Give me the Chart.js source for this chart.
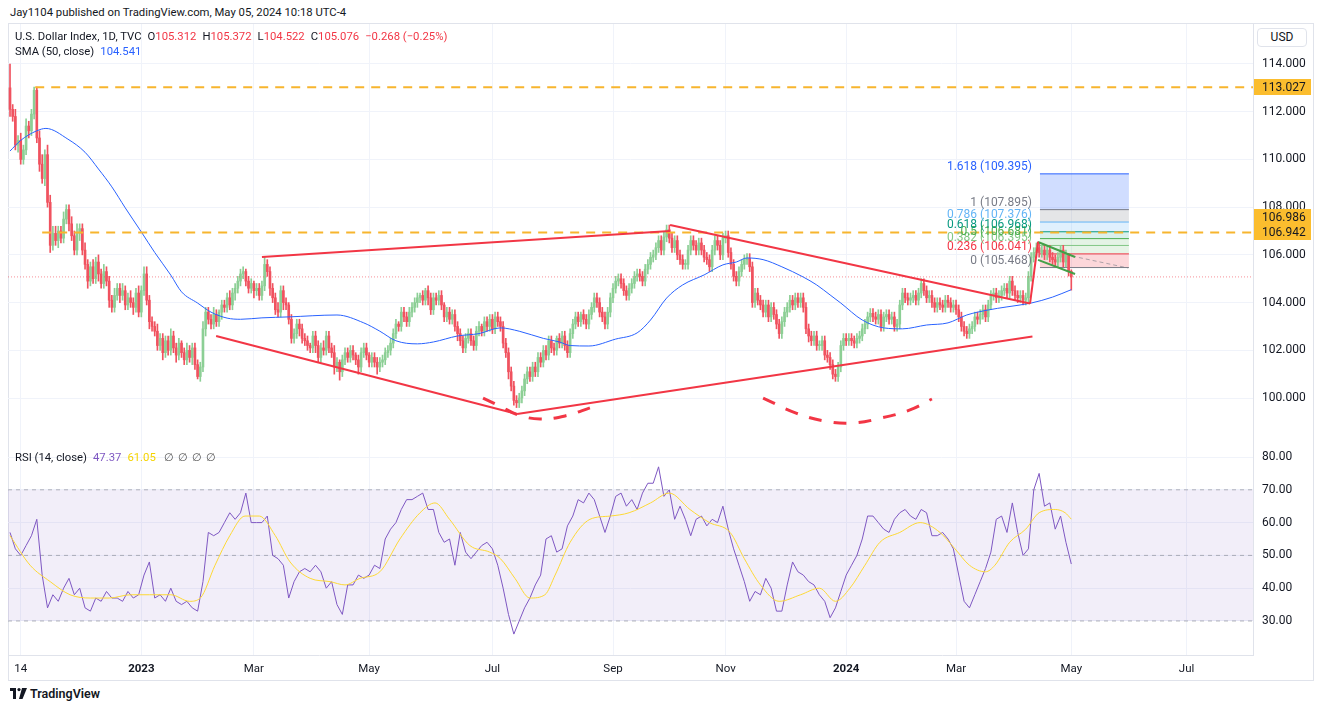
<!DOCTYPE html>
<html><head><meta charset="utf-8">
<script src="https://cdn.jsdelivr.net/npm/chart.js@4.4.1/dist/chart.umd.min.js"></script>
<style>
body{margin:0;width:1320px;height:709px;background:#fff;font-family:Roboto,"Liberation Sans",sans-serif;position:relative;overflow:hidden;color:#131722}
.abs{position:absolute;white-space:nowrap}
#frame{position:absolute;left:8px;top:23px;width:1306px;height:658px;border:1px solid #e0e3eb;box-sizing:border-box}
canvas{position:absolute}
#usd{left:1257px;top:28px;width:50px;height:19px;border:1px solid #e0e3eb;border-radius:4px;box-sizing:border-box;font-size:12px;text-align:center;line-height:17px;background:#fff}
.red{color:#f23645}.blue{color:#2962ff}
.g{margin-left:6px}
</style></head><body>
<div class="abs" style="left:10px;top:6px;font-size:11.3px">Jay1104 published on TradingView.com, May 05, 2024 10:18 UTC-4</div>
<div id="frame"></div>
<canvas id="c1" width="1305" height="419" style="left:8px;top:24px"></canvas>
<canvas id="c2" width="1305" height="237" style="left:8px;top:443px"></canvas>
<div class="abs" style="left:15px;top:30px;font-size:11.3px">U.S. Dollar Index, 1D, TVC<span class="g">O</span><span class="red">105.312</span><span class="g">H</span><span class="red">105.372</span><span class="g">L</span><span class="red">104.522</span><span class="g">C</span><span class="red">105.076</span><span class="g red">−0.268 (−0.25%)</span></div>
<div class="abs" style="left:15px;top:45px;font-size:11.3px">SMA (50, close)<span class="g blue">104.541</span></div>
<div class="abs" style="left:15px;top:451px;font-size:11.3px">RSI (14, close)<span class="g" style="color:#7e57c2">47.37</span><span class="g" style="color:#f5d300">61.05</span><span class="g" style="color:#555;font-size:10.5px;margin-left:8px;letter-spacing:4px">∅∅∅∅</span></div>
<div id="usd" class="abs">USD</div>
<div class="abs" style="left:10px;top:686px;font-size:12.5px;font-weight:600;display:flex;align-items:center">
<svg width="17" height="11" viewBox="0 0 17 11" style="margin-right:3px"><rect x="0" y="0" width="6" height="3" fill="#131722"/><rect x="3" y="0" width="3" height="11" fill="#131722"/><circle cx="9" cy="1.6" r="1.6" fill="#131722"/><polygon points="12,0 17,0 12.5,11 9,11" fill="#131722"/></svg>TradingView</div>
<script>
const FONT = 'Roboto, "Liberation Sans", sans-serif';
// ---- price data (daily candles, bar index 0 = first bar) ----
const firstOpen = 113.0;
const closes = [
112.1,111.8,110.6,110.8,110.0,110.4,111.4,111.2,111.9,112.9,
110.9,109.8,109.2,110.2,108.2,106.4,106.9,106.6,107.0,106.7,
107.5,107.9,107.3,106.8,106.2,106.9,107.1,106.2,105.6,104.9,
105.5,105.0,105.7,105.2,104.8,105.3,104.9,104.1,103.8,104.3,
104.6,104.3,104.5,103.9,104.2,104.0,103.8,104.4,103.6,104.5,
105.2,104.1,103.2,103.0,102.8,102.2,102.5,101.9,102.4,102.0,
102.6,102.1,101.8,102.3,101.9,101.6,102.0,101.7,102.1,101.4,
100.9,101.3,102.9,103.6,103.3,103.1,103.5,103.2,103.6,103.9,
103.8,104.2,103.9,104.4,104.6,104.9,105.2,105.3,104.9,104.6,
104.8,104.5,104.6,104.3,104.7,105.6,105.3,104.6,104.2,103.7,
103.6,104.5,104.0,103.9,103.3,102.5,102.7,103.1,102.9,102.5,
102.4,102.2,102.1,102.6,102.2,101.7,102.1,102.0,102.6,102.1,
101.9,101.3,101.5,101.1,101.6,101.9,101.7,102.0,101.8,101.6,
101.3,101.9,102.1,101.8,101.5,101.7,101.5,101.3,101.5,101.6,
101.9,102.0,102.3,102.7,103.1,103.0,103.6,103.4,103.2,103.6,
103.8,104.0,104.2,104.3,104.1,104.5,104.2,103.7,104.2,104.1,
104.3,103.9,103.4,103.6,103.3,103.5,103.0,102.7,102.4,102.1,
102.5,102.7,102.4,102.2,102.8,103.0,102.8,103.2,103.0,103.3,
102.9,103.4,103.2,103.0,102.3,101.9,101.1,100.5,99.9,99.8,
100.0,100.3,100.8,101.1,100.9,101.3,101.1,101.7,101.5,102.0,
101.8,102.4,102.1,102.0,102.5,102.3,102.6,102.2,101.9,102.7,
103.1,103.4,103.2,103.5,103.3,103.1,103.5,103.8,104.2,104.0,
103.6,103.4,103.1,103.6,104.2,104.6,104.9,105.0,104.8,104.5,
104.3,104.6,104.8,105.1,105.2,105.1,104.9,105.4,105.6,105.9,
106.0,106.3,106.6,106.2,106.75,107.05,106.7,106.3,106.6,106.0,
105.8,105.6,105.6,106.2,106.6,106.4,106.2,106.5,106.2,105.9,
105.8,105.5,106.2,106.6,106.4,106.0,106.7,106.8,106.1,105.6,
105.1,104.9,105.3,105.6,105.8,105.85,105.5,104.0,104.4,104.1,
103.9,103.6,103.9,103.4,103.8,103.5,103.1,102.7,103.2,103.6,
103.8,104.1,103.9,104.2,104.0,104.2,103.8,102.9,102.6,102.4,
102.6,102.2,102.2,102.4,101.8,101.7,101.4,101.0,100.9,101.3,
102.2,102.5,102.4,102.5,102.4,102.3,102.5,102.6,102.9,103.1,
103.4,103.55,103.4,103.3,103.5,103.0,103.4,103.5,103.3,103.4,
103.0,103.1,103.9,104.4,104.2,104.1,104.2,104.3,104.1,104.4,
104.8,104.5,104.2,104.3,104.0,103.8,104.0,103.9,103.8,104.1,
104.0,103.8,103.9,103.7,103.4,103.0,102.8,102.7,102.9,103.0,
103.4,103.3,103.5,103.7,103.4,103.9,104.3,104.4,104.2,104.3,
104.5,104.6,104.4,104.9,104.5,104.3,104.2,104.3,104.1,104.2,
105.1,105.9,106.1,106.3,106.1,106.2,106.0,106.2,105.9,105.8,
105.7,105.9,106.2,105.7,106.0,105.312,105.076];
const upperWick = [
1.0,.2,.3,.2,.3,.2,.3,.2,.2,.13, .13,.3,.4,.2,.4,.3,.3,.3,.2,.2,
.3,.2,.2,.3,.2,.4,.2,.2,.3,.2, .2,.3,.2,.3,.2,.3,.2,.2,.2,.3,
.2,.2,.3,.2,.2,.3,.2,.2,.3,.2, .3,.3,.2,.2,.2,.3,.2,.2,.2,.2,
.3,.2,.2,.2,.1,.2,.3,.2,.2,.2, .2,.2,.3,.2,.2,.2,.3,.2,.1,.2,
.2,.2,.3,.2,.2,.2,.2,.2,.1,.2, .2,.1,.2,.2,.2,.3,.2,.2,.2,.2,
.3,.2,.2,.2,.1,.2,.2,.2,.2,.2, .2,.2,.1,.2,.2,.2,.2,.3,.2,.2,
.2,.3,.2,.1,.2,.2,.2,.2,.2,.1, .2,.2,.2,.2,.1,.2,.2,.2,.2,.2,
.2,.2,.2,.2,.2,.1,.2,.2,.2,.2, .2,.2,.2,.1,.2,.1,.2,.2,.2,.2,
.2,.2,.1,.2,.2,.2,.2,.2,.2,.2, .2,.2,.2,.2,.2,.2,.1,.2,.2,.2,
.2,.2,.2,.2,.2,.2,.2,.2,.2,.2, .2,.2,.2,.2,.2,.2,.2,.2,.2,.2,
.2,.2,.2,.2,.1,.2,.2,.2,.2,.2, .2,.2,.2,.1,.2,.2,.2,.2,.2,.2,
.2,.2,.2,.2,.2,.2,.2,.2,.2,.2, .2,.2,.2,.2,.2,.2,.2,.2,.2,.2,
.2,.2,.2,.2,.2,.2,.2,.2,.2,.2, .2,.2,.2,.2,.2,.2,.2,.2,.2,.2,
.2,.2,.2,.2,.2,.2,.2,.2,.2,.2, .2,.2,.2,.2,.2,.2,.2,.2,.2,.2,
.2,.2,.2,.2,.2,.2,.2,.2,.2,.2, .2,.2,.2,.2,.2,.2,.2,.2,.2,.2,
.2,.2,.2,.2,.2,.2,.2,.2,.2,.2, .2,.2,.2,.2,.2,.2,.2,.2,.2,.2,
.2,.2,.2,.2,.2,.2,.2,.2,.2,.2, .2,.2,.2,.2,.2,.2,.2,.2,.2,.2,
.2,.2,.2,.2,.2,.2,.2,.2,.2,.2, .2,.2,.2,.2,.2,.2,.2,.2,.2,.2,
.2,.2,.2,.2,.2,.2,.2,.2,.2,.2, .2,.2,.2,.2,.2,.2,.2,.2,.2,.2,
.2,.2,.2,.2,.2,.2,.2,.2,.2,.2, .2,.2,.2,.2,.2,.06,.06];
const lowerWick = [
.3,.2,.2,.3,.2,.2,.2,.3,.2,.2, .2,.3,.2,.3,.2,.3,.2,.2,.3,.2,
.2,.2,.3,.2,.2,.2,.3,.2,.2,.3, .2,.2,.2,.3,.2,.2,.2,.3,.2,.2,
.2,.3,.2,.2,.2,.2,.3,.2,.2,.2, .2,.2,.3,.2,.2,.2,.2,.3,.2,.2,
.2,.2,.3,.2,.2,.2,.2,.2,.3,.2, .1,.2,.2,.3,.2,.2,.2,.2,.2,.3,
.2,.2,.2,.2,.3,.2,.2,.2,.2,.2, .2,.3,.2,.2,.2,.2,.2,.3,.2,.2,
.2,.2,.3,.2,.2,.2,.2,.2,.3,.2, .2,.2,.2,.2,.3,.2,.2,.2,.2,.2,
.2,.3,.2,.35,.2,.2,.2,.2,.2,.2, .3,.2,.2,.2,.2,.2,.2,.3,.2,.2,
.2,.2,.2,.2,.2,.2,.2,.2,.2,.2, .2,.2,.2,.2,.2,.2,.3,.2,.2,.2,
.2,.2,.2,.2,.2,.2,.2,.3,.2,.2, .2,.2,.2,.2,.2,.2,.2,.2,.2,.2,
.2,.2,.2,.2,.2,.2,.3,.2,.2,.2, .2,.2,.2,.2,.2,.2,.2,.2,.2,.2,
.2,.2,.2,.2,.2,.2,.2,.2,.2,.2, .2,.2,.2,.2,.2,.2,.2,.2,.2,.2,
.2,.2,.2,.2,.2,.2,.2,.2,.2,.2, .2,.2,.2,.2,.2,.2,.2,.2,.2,.2,
.2,.2,.2,.2,.2,.2,.2,.2,.2,.2, .2,.2,.2,.2,.2,.2,.2,.2,.2,.2,
.2,.2,.2,.2,.2,.2,.2,.2,.2,.2, .2,.2,.2,.2,.2,.2,.2,.2,.2,.2,
.2,.2,.2,.2,.2,.2,.2,.2,.2,.2, .2,.2,.2,.2,.2,.2,.2,.2,.25,.2,
.2,.2,.2,.2,.2,.2,.2,.2,.2,.2, .2,.2,.2,.2,.2,.2,.2,.2,.2,.2,
.2,.2,.2,.2,.2,.2,.2,.2,.2,.2, .2,.2,.2,.2,.2,.2,.2,.2,.2,.2,
.2,.2,.2,.2,.2,.2,.2,.2,.2,.2, .2,.2,.2,.2,.2,.2,.2,.2,.2,.2,
.2,.2,.2,.2,.2,.2,.2,.2,.2,.2, .2,.2,.2,.2,.2,.2,.2,.2,.2,.2,
.2,.2,.2,.2,.2,.2,.2,.2,.2,.2, .2,.2,.2,.2,.2,.2,.554];
// ---- SMA(50) read at sample bars ----
const smaBars = [0,4,10,13.4,21.6,28,33,38,43,49,54,60,64,70,75,81,86,94,104,122,132,138,144,152,158,167,175,183,190,199,205,209,216,226,234,239,245,251,259,266,271,275,281,288,296,301,306,310,318,326,333,342,350,357,365,372,381,389,396];
const smaValues = [110.35,110.8,111.2,111.3,110.85,110.3,109.6,108.85,107.97,106.96,106.1,105.15,104.45,103.98,103.6,103.35,103.3,103.36,103.4,103.48,103.15,102.8,102.4,102.27,102.35,102.6,102.7,102.94,102.8,102.5,102.35,102.2,102.18,102.47,102.73,103.27,104.19,104.74,105.16,105.58,105.7,105.87,105.8,105.5,105.07,104.74,104.32,103.98,103.27,102.94,102.9,103.06,103.15,103.48,103.69,103.82,103.98,104.23,104.541];
// ---- RSI(14), read every 2nd bar ----
const rsiStep = 2;
const rsiValues = [
57,52,50,53,56,61,44,34,38,36,40,43,38,40,34,33,37,36,39,37,
37,36,39,37,38,44,48,37,38,36,40,36,35,36,34,33,42,57,56,57,
60,63,61,63,69,60,60,60,62,50,49,47,37,42,45,46,45,47,45,40,
42,35,32,41,41,44,43,44,47,46,55,58,60,64,67,67,68,69,64,64,
57,54,55,47,57,51,49,51,53,54,52,47,40,32,26,30,34,37,41,44,
55,56,51,52,59,62,67,66,69,67,62,57,62,68,69,65,67,64,69,72,
72,77,68,70,61,65,61,56,61,62,59,61,60,65,58,52,47,42,36,39,
38,43,40,33,33,41,48,45,44,42,41,38,36,31,34,39,44,47,50,55,
62,62,60,58,57,61,63,64,62,61,64,63,56,56,57,55,52,44,36,34,
38,42,46,51,61,62,57,66,57,50,52,70,75,65,66,58,62,54,47.37];
const rsiMaBars = [0,7.5,15,22.4,30,37,45,52,60,67,71,76.5,82,87.7,93,99,104.5,112,119.4,125,130.6,138,145.5,153,158.6,164,171.6,179,183,188.4,194,199.6,203.4,209,216.4,224,231,239,246,253.7,261,268.7,274,280,287,295,302,308,313.4,319,324.6,332,339.6,347,352.6,358,364,367.5,373,379,384,390,393.7,396];
const rsiMaValues = [56,47,42,38,37,37,38,38,38,36,37,47,56,62,62,56,48,43,42,41,43,45,55,63,66,61,53,51,49,43,37,38,44,54,61,62,63,66,69,64,60,57,49,41,36,38,40,36,40,47,54,57,60,57,52,47,45,47,54,58,63,64,63,61.05];
const rsiLevels = [70, 50, 30];
// ---- axes ----
const priceTicks = [100,102,104,106,108,110,112,114];
const rsiTicks = [30,40,50,60,70,80];
const timeTickBars = [4,49,91,134,180,225,267,312,353,396,439];
const timeTickLabels = ['14','2023','Mar','May','Jul','Sep','Nov','2024','Mar','May','Jul'];
const yearLabels = ['2023','2024'];
const xMin = -0.75, xMax = 463.8;
const priceMin = 98.115, priceMax = 115.676;
const rsiMin = 19.63, rsiMax = 84.27;
// ---- drawings ----
const resistancePrices = [113.027, 106.942];
const resistanceFrom = [9.4, 12];
const axisMarks = [113.027, 106.986, 106.942];
const lastClose = 105.076;
const wedgeTop = [[94,105.91],[246.3,107.0]];
const wedgeBottomLeft = [[76.9,102.6],[189.2,99.33]];
const wedgeBottomRight = [[189.2,99.33],[381.5,102.58]];
const downTrend = [[246.3,107.25],[380.6,103.96]];
const breakout = [[380.6,103.96],[383.6,106.55]];
const flagTop = [[383.6,106.54],[397.4,105.91]];
const flagBottom = [[383.6,105.79],[397.4,105.2]];
const arcLeft = [[176.5,100.0],[182.8,99.66],[189.6,99.29],[197.8,99.12],[207.1,99.25],[217.2,99.62]];
const arcRight = [[281,100.0],[293.3,99.37],[303.7,99.04],[314.2,98.95],[325,99.16],[335.8,99.5],[344,99.96]];
const fibProjection = [[396.3,105.95],[417.2,105.45]];
const fibRatios = ['0','0.236','0.382','0.5','0.618','0.786','1','1.618'];
const fibPrices = [105.468,106.041,106.395,106.681,106.968,107.376,107.895,109.395];
const fibBars = [384.3, 417.5];

const fibLine = ['#787b86','#f23645','#81c784','#4caf50','#089981','#64b5f6','#787b86','#2962ff'];
const fibFill = [null,'rgba(242,54,69,0.2)','rgba(129,199,132,0.2)','rgba(76,175,80,0.15)','rgba(8,153,129,0.15)','rgba(100,181,246,0.2)','rgba(120,123,134,0.2)','rgba(41,98,255,0.22)'];
const UP='#8ccf95', DOWN='#f0525f';

const opens = closes.map((c,i)=> i===0 ? firstOpen : closes[i-1]);
const highs = closes.map((c,i)=> Math.max(opens[i],c)+upperWick[i]);
const lows = closes.map((c,i)=> Math.min(opens[i],c)-lowerWick[i]);
const candleColor = closes.map((c,i)=> c>=opens[i] ? UP : DOWN);
const pts = arr => arr.map(p=>({x:p[0],y:p[1]}));
const seg = (data,color,width,dash,order,tension) => ({type:'line',data:pts(data),borderColor:color,borderWidth:width,borderDash:dash||[],pointRadius:0,fill:false,order:order,tension:tension||0,borderCapStyle:'butt'});

const ds1 = [];
fibPrices.forEach((p,i)=>{
  ds1.push({type:'line',data:[{x:fibBars[0],y:p},{x:fibBars[1],y:p}],borderColor:fibLine[i],borderWidth:1,pointRadius:0,
    fill: i===0 ? false : '-1', backgroundColor: fibFill[i] || 'transparent', order:20});
});
ds1.push({type:'bar',data:closes.map((c,i)=>({x:i,y:[lows[i],highs[i]]})),backgroundColor:candleColor,barThickness:1,grouped:false,borderWidth:0,order:6});
ds1.push({type:'bar',data:closes.map((c,i)=>({x:i,y:[opens[i],c]})),backgroundColor:candleColor,barThickness:2,grouped:false,borderWidth:0,minBarLength:1,order:5});
ds1.push({type:'line',data:smaBars.map((b,i)=>({x:b,y:smaValues[i]})),borderColor:'#2962ff',borderWidth:1,pointRadius:0,cubicInterpolationMode:'monotone',fill:false,order:3});
ds1.push(seg([[xMin,lastClose],[xMax,lastClose]],'rgba(242,54,69,0.55)',1,[1,2],4));
resistancePrices.forEach((p,i)=> ds1.push(seg([[resistanceFrom[i],p],[xMax,p]],'#f7b52e',2,[9,7],2)));
ds1.push(seg(fibProjection,'rgba(120,123,134,0.6)',1,[4,3],2));
[wedgeTop,wedgeBottomLeft,wedgeBottomRight,downTrend,breakout].forEach(l=> ds1.push(seg(l,'#f23645',2,null,1)));
ds1.push(seg(flagTop,'#43a047',2,null,1));
ds1.push(seg(flagBottom,'#43a047',2,null,1));
ds1.push(seg(arcLeft,'#f23645',3,[13,12],1,0.4));
ds1.push(seg(arcRight,'#f23645',3,[13,12],1,0.4));

const overlay = {
  id:'overlay',
  afterDatasetsDraw(chart){
    const {ctx, scales:{x,y}} = chart;
    ctx.save();
    ctx.font = '12px '+FONT; ctx.textAlign='right'; ctx.textBaseline='bottom';
    fibPrices.forEach((p,i)=>{
      ctx.fillStyle = fibLine[i];
      ctx.fillText(fibRatios[i]+' ('+p.toFixed(3)+')', x.getPixelForValue(fibBars[0])-8, y.getPixelForValue(p)-1);
    });
    ctx.restore();
  },
  afterDraw(chart){
    const {ctx, chartArea, scales:{y}} = chart;
    const shift=[0,-14,0];
    ctx.save();
    axisMarks.forEach((p,i)=>{
      const py = Math.round(y.getPixelForValue(p))+shift[i];
      ctx.fillStyle='#fbbd2e'; ctx.fillRect(chartArea.right+1, py-8, 57, 16);
      ctx.fillStyle='#131722'; ctx.font='12px '+FONT; ctx.textAlign='left'; ctx.textBaseline='middle';
      ctx.fillText(p.toFixed(3), chartArea.right+9, py+1);
    });
    ctx.restore();
  }
};

const noPad = s => { s.paddingTop = 0; s.paddingBottom = 0; s.paddingLeft = 0; s.paddingRight = 0; };
const xScale = (showLabels) => ({
  type:'linear', min:xMin, max:xMax, offset:false,
  grid:{color:'#f0f3fa', offset:false, drawTicks:false},
  border:{display:true,color:'#e0e3eb'},
  afterBuildTicks: s => { s.ticks = timeTickBars.map(v=>({value:v})); },
  afterFit: s => { s.height = showLabels ? 25 : 0; noPad(s); },
  ticks:{display:showLabels, padding:7, color:'#131722', maxRotation:0, autoSkip:false,
    callback: v => { const k = timeTickBars.indexOf(v); return k>=0 ? timeTickLabels[k] : ''; },
    font: ctx => ({family:FONT, size:11.5, weight: yearLabels.includes(timeTickLabels[timeTickBars.indexOf(ctx.tick && ctx.tick.value)]) ? 'bold' : 'normal'})}
});
const yScale = (min,max,ticks,dec) => ({
  position:'right', min:min, max:max,
  grid:{color:'#f0f3fa', drawTicks:false}, border:{display:true,color:'#e0e3eb'},
  afterBuildTicks: s => { s.ticks = ticks.map(v=>({value:v})); },
  afterFit: s => { s.width = 60; noPad(s); },
  ticks:{padding:9, color:'#131722', font:{family:FONT,size:12}, callback: v => v.toFixed(dec)}
});

new Chart(document.getElementById('c1'), {
  type:'bar',
  data:{datasets:ds1},
  options:{
    responsive:false, animation:false, devicePixelRatio:1,
    layout:{padding:0},
    plugins:{legend:{display:false}, tooltip:{enabled:false}},
    scales:{ x: xScale(false), y: yScale(priceMin,priceMax,priceTicks,3) }
  },
  plugins:[overlay]
});

const ds2 = [];
rsiLevels.forEach((lv,i)=>{
  ds2.push({type:'line',data:[{x:xMin,y:lv},{x:xMax,y:lv}],borderColor:'rgba(120,123,134,0.55)',borderWidth:1,borderDash:[4,4],pointRadius:0,
    fill: i===2 ? 0 : false, backgroundColor:'rgba(126,87,194,0.1)', order:10});
});
ds2.push({type:'line',data:rsiValues.map((v,i)=>({x:i*rsiStep,y:v})),borderColor:'#7e57c2',borderWidth:1,pointRadius:0,fill:false,order:2});
ds2.push({type:'line',data:rsiMaBars.map((b,i)=>({x:b,y:rsiMaValues[i]})),borderColor:'#fdd835',borderWidth:1,pointRadius:0,cubicInterpolationMode:'monotone',fill:false,order:1});

new Chart(document.getElementById('c2'), {
  type:'line',
  data:{datasets:ds2},
  options:{
    responsive:false, animation:false, devicePixelRatio:1,
    layout:{padding:0},
    plugins:{legend:{display:false}, tooltip:{enabled:false}},
    scales:{ x: xScale(true), y: yScale(rsiMin,rsiMax,rsiTicks,2) }
  }
});
</script>
</body></html>
